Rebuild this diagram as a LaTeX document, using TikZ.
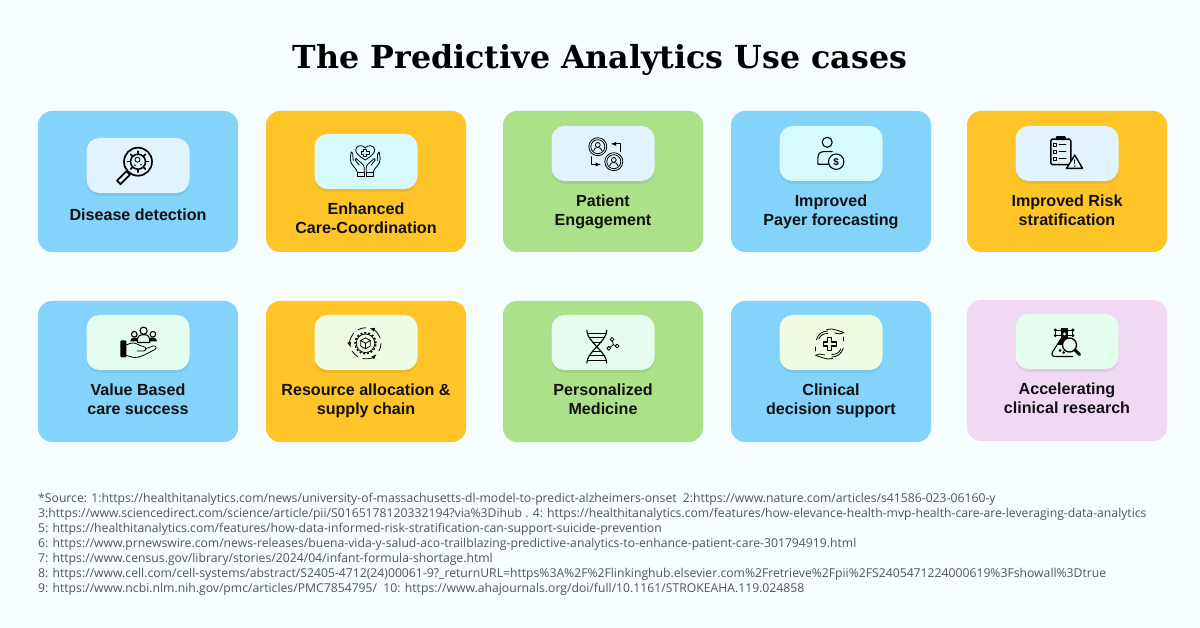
\documentclass[tikz,border=0pt]{standalone}
\usepackage{fontspec}
\setmainfont{Liberation Sans}
\newfontfamily\titlefont{DejaVu Serif}
\newfontfamily\sourcefont{Open Sans}
\usetikzlibrary{positioning,shadows,arrows}
\definecolor{pagebg}{HTML}{F5FDFF}
\definecolor{cardblue}{HTML}{84D3FA}
\definecolor{cardorange}{HTML}{FFC427}
\definecolor{cardgreen}{HTML}{ABE188}
\definecolor{cardpink}{HTML}{F1D8F3}
\definecolor{boxsky}{HTML}{E0F3FE}
\definecolor{boxcyan}{HTML}{D6FBFF}
\definecolor{boxmint}{HTML}{E4FDEF}
\definecolor{boxlime}{HTML}{EEFDE2}
\definecolor{inkdark}{HTML}{111111}
\definecolor{inkgray}{HTML}{555555}
\tikzset{
  card/.style={minimum width=200pt,minimum height=141pt,rounded corners=14pt,inner sep=0pt,outer sep=0pt},
  iconbox/.style={minimum width=103pt,minimum height=55pt,rounded corners=13pt,inner sep=0pt,outer sep=0pt,
    drop shadow={shadow xshift=0pt,shadow yshift=-3pt,opacity=.06,fill=black}},
  cardlabel/.style={inner sep=0pt,align=center,text=inkdark,execute at begin node={\strut},
    font=\fontsize{16.1}{19}\selectfont\bfseries},
  thin line/.style={draw=black,line width=.8pt,line cap=round,line join=round},
  bold line/.style={draw=black,line width=1.7pt,line cap=round,line join=round}
}
\begin{document}
\begin{tikzpicture}[x=1pt,y=-1pt,>=latex]
\fill[pagebg] (0,0) rectangle (1200,628);
\node[font=\titlefont\fontsize{31.7}{38}\selectfont\bfseries,text=black] (title) at (600,60) {The Predictive Analytics Use cases};

\node[card,fill=cardblue] (detect) at (138,181.5) {};
\node[card,fill=cardorange] (coord) [right=28pt of detect] {};
\node[card,fill=cardgreen] (engage) [right=37pt of coord] {};
\node[card,fill=cardblue] (payer) [right=28pt of engage] {};
\node[card,fill=cardorange] (risk) [right=36pt of payer] {};
\node[card,fill=cardblue] (value) [below=49pt of detect] {};
\node[card,fill=cardorange] (supply) [below=49pt of coord] {};
\node[card,fill=cardgreen] (medicine) [below=49pt of engage] {};
\node[card,fill=cardblue] (support) [below=49pt of payer] {};
\node[card,fill=cardpink] (research) [below=48pt of risk] {};

\node[iconbox,fill=boxsky] (detectbox) [below=27pt of detect.north] {};
\node[iconbox,fill=boxcyan] (coordbox) [below=23pt of coord.north] {};
\node[iconbox,fill=boxsky] (engagebox) [below=15pt of engage.north] {};
\node[iconbox,fill=boxcyan] (payerbox) [below=15pt of payer.north] {};
\node[iconbox,fill=boxsky] (riskbox) [below=15pt of risk.north] {};
\node[iconbox,fill=boxmint] (valuebox) [below=14pt of value.north] {};
\node[iconbox,fill=boxlime] (supplybox) [below=14pt of supply.north] {};
\node[iconbox,fill=boxmint] (medicinebox) [below=14pt of medicine.north] {};
\node[iconbox,fill=boxlime] (supportbox) [below=14pt of support.north] {};
\node[iconbox,fill=boxmint] (researchbox) [below=14pt of research.north] {};

\node[cardlabel] (detectlabel) [below=14pt of detectbox] {Disease detection};
\node[cardlabel] (coordlabel) [below=14pt of coordbox] {Enhanced\\Care-Coordination};
\node[cardlabel] (engagelabel) [below=14pt of engagebox] {Patient\\Engagement};
\node[cardlabel] (payerlabel) [below=14pt of payerbox] {Improved\\Payer forecasting};
\node[cardlabel] (risklabel) [below=14pt of riskbox] {Improved Risk\\stratification};
\node[cardlabel] (valuelabel) [below=14pt of valuebox] {Value Based\\care success};
\node[cardlabel] (supplylabel) [below=14pt of supplybox] {Resource allocation \&\\supply chain};
\node[cardlabel] (medicinelabel) [below=14pt of medicinebox] {Personalized\\Medicine};
\node[cardlabel] (supportlabel) [below=14pt of supportbox] {Clinical\\decision support};
\node[cardlabel] (researchlabel) [below=14pt of researchbox] {Accelerating\\clinical research};

\node[anchor=north west,inner sep=0pt,align=left,text=inkgray,font=\sourcefont\fontsize{12.2}{15}\selectfont] (source) at (38,493) {%
*Source: 1:https://healthitanalytics.com/news/university-of-massachusetts-dl-model-to-predict-alzheimers-onset\ \ 2:https://www.nature.com/articles/s41586-023-06160-y\\
3:https://www.sciencedirect.com/science/article/pii/S0165178120332194?via\%3Dihub . 4: https://healthitanalytics.com/features/how-elevance-health-mvp-health-care-are-leveraging-data-analytics\\
5: https://healthitanalytics.com/features/how-data-informed-risk-stratification-can-support-suicide-prevention\\
6: https://www.prnewswire.com/news-releases/buena-vida-y-salud-aco-trailblazing-predictive-analytics-to-enhance-patient-care-301794919.html\\
7: https://www.census.gov/library/stories/2024/04/infant-formula-shortage.html\\
8: https://www.cell.com/cell-systems/abstract/S2405-4712(24)00061-9?\_returnURL=https\%3A\%2F\%2Flinkinghub.elsevier.com\%2Fretrieve\%2Fpii\%2FS2405471224000619\%3Fshowall\%3Dtrue\\
9: https://www.ncbi.nlm.nih.gov/pmc/articles/PMC7854795/\ \ 10: https://www.ahajournals.org/doi/full/10.1161/STROKEAHA.119.024858};

\begin{scope}[shift={(detectbox.center)},shift={(0,-3.8)}]
\draw[bold line] (0,0) circle (14pt);
\draw[thin line,line width=1.5pt] (0,0) circle (7.5pt);
\foreach \a in {0,45,...,315} \draw[thin line,line width=1.5pt] (\a:7.5pt) -- (\a:10.5pt);
\draw[thin line] (-.5,-2) circle (2.5pt);
\fill (-3,3.5) circle (.9pt) (3,3) circle (.9pt);
\draw[bold line] (-11.5,9.5) -- (-21,19) -- (-17.5,22.5) -- (-8,13) -- cycle;
\end{scope}

\begin{scope}[shift={(coordbox.center)},shift={(-.8,0)}]
\draw[thin line] (0,-1.5) .. controls (-6,-5) and (-10,-9) .. (-9.5,-12) .. controls (-9,-16.5) and (-2,-17) .. (0,-13.5) .. controls (2,-17) and (9,-16.5) .. (9.5,-12) .. controls (10,-9) and (6,-5) .. cycle;
\draw[thin line,line width=.7pt] (-1.4,-12.5) -- (1.4,-12.5) -- (1.4,-10.4) -- (3.8,-10.4) -- (3.8,-7.6) -- (1.4,-7.6) -- (1.4,-5.5) -- (-1.4,-5.5) -- (-1.4,-7.6) -- (-3.8,-7.6) -- (-3.8,-10.4) -- (-1.4,-10.4) -- cycle;
\foreach \s in {1,-1} {
\begin{scope}[xscale=\s]
\draw[thin line] (-8,10.5) .. controls (-9,6) and (-15,4) .. (-15,-3) -- (-14,-9.5) -- (-12.5,-8) -- (-12,-1);
\draw[thin line] (-1,10.5) -- (-1,6) .. controls (-1,3) and (-5,1) .. (-9,-3) -- (-10,-1.5) -- (-6,3.5);
\draw[thin line] (-8,10.5) rectangle (-.9,15.2);
\end{scope}
}
\end{scope}

\begin{scope}[shift={(engagebox.center)},shift={(2.8,.7)}]
\foreach \px/\py in {-8/-7.5,8/7.5} {
\begin{scope}[shift={(\px,\py)}]
\draw[thin line] (0,0) circle (9pt);
\draw[thin line] (0,0) circle (7pt);
\draw[thin line] (0,-1.8) circle (2.4pt);
\draw[thin line] (-4.2,4.2) .. controls (-4,1.5) and (-2,.8) .. (0,.8) .. controls (2,.8) and (4,1.5) .. (4.2,4.2);
\end{scope}
}
\draw[thin line,->] (14.7,-2.5) -- (14.7,-10.3) -- (5,-10.3);
\draw[thin line,->] (-14.7,2.5) -- (-14.7,10.3) -- (-5,10.3);
\end{scope}

\begin{scope}[shift={(payerbox.center)},shift={(-3.8,-11.2)}]
\draw[thin line,line width=1.1pt] (0,0) circle (5pt);
\draw[thin line,line width=1.1pt] (1,22) -- (-9.3,22) -- (-9.3,15.5) .. controls (-9.3,11.5) and (-7,9.3) .. (-3.3,9.3) -- (5,9.3);
\draw[thin line,line width=1.1pt,fill=boxcyan] (9,19.4) circle (7.7pt);
\node[inner sep=0pt,font=\fontsize{10}{10}\selectfont\bfseries] (payerdollar) at (9,19.4) {\$};
\end{scope}

\begin{scope}[shift={(riskbox.center)},shift={(-6.2,-1.9)}]
\draw[bold line,line width=1.4pt,rounded corners=1.5pt] (-10,-12.5) rectangle (10,13);
\fill[rounded corners=1pt] (-5,-15.5) rectangle (5,-11.5);
\foreach \ry in {-7,0,7} {
\draw[thin line] (-7.5,\ry-1.6) rectangle (-4.3,\ry+1.6);
\draw[thin line,line width=1.3pt] (-1.5,\ry) -- (5,\ry);
}
\draw[bold line,line width=1.4pt,fill=boxsky] (14,3.5) -- (5.7,16.8) -- (21.7,16.8) -- cycle;
\draw[thin line,line width=1.3pt] (14,8.3) -- (14,12);
\fill (14,14.5) circle (.8pt);
\end{scope}

\begin{scope}[shift={(valuebox.center)},shift={(0,.5)}]
\fill[rounded corners=1pt] (-17.7,-2.5) rectangle (-11.7,14.3);
\draw[thin line] (-11.7,2) .. controls (-6,-1) and (-3,-.5) .. (2,2.5) -- (7,4) .. controls (9,5) and (8,8) .. (5,8) -- (-1,8);
\draw[thin line] (7,6) -- (15,3) .. controls (19,2) and (19,6) .. (16,7) .. controls (8,11) and (2,15) .. (-4,14.5) -- (-11.7,12.5);
\draw[thin line,line width=1.1pt] (-3.7,-8.7) circle (2.8pt);
\draw[thin line,line width=1.1pt] (14.9,-8.7) circle (2.8pt);
\fill (-8,-1.5) .. controls (-8,-4.5) and (-5,-5.5) .. (-3.7,-5.5) -- (0,-5) -- (0,-1.5) -- cycle;
\fill (19.2,-1.5) .. controls (19.2,-4.5) and (16.2,-5.5) .. (14.9,-5.5) -- (11,-5) -- (11,-1.5) -- cycle;
\draw[thin line,line width=1.1pt,fill=boxmint] (5.6,-12.3) circle (3.6pt);
\draw[thin line,line width=1.1pt,fill=boxmint] (-.5,-.5) -- (-.5,-4.5) .. controls (-.5,-7) and (2,-8.3) .. (5.6,-8.3) .. controls (9,-8.3) and (11.7,-7) .. (11.7,-4.5) -- (11.7,-.5) -- cycle;
\end{scope}

\begin{scope}[shift={(supplybox.center)},shift={(-.5,.8)}]
\foreach \a in {20,140,260} {
\draw[thin line,->] (\a:15.5pt) arc[start angle=\a,end angle=\a+55,radius=15.5pt];
\draw[thin line] (\a+70:15.5pt) arc[start angle=\a+70,end angle=\a+100,radius=15.5pt];
}
\draw[thin line,line width=1.5pt,dash pattern=on 2pt off 1.9pt,line cap=butt] (0,0) circle (10.5pt);
\draw[thin line] (0,0) circle (9.3pt);
\draw[thin line] (0,-5.5) -- (4.8,-2.8) -- (4.8,2.8) -- (0,5.5) -- (-4.8,2.8) -- (-4.8,-2.8) -- cycle;
\draw[thin line] (-4.8,-2.8) -- (0,0) -- (4.8,-2.8) (0,0) -- (0,5.5);
\end{scope}

\begin{scope}[shift={(medicinebox.center)},shift={(-6.2,4.2)}]
\draw[thin line,line width=1.1pt] (-10,-16.5) .. controls (-10,-5) and (10,5) .. (10,16.5);
\draw[thin line,line width=1.1pt] (10,-16.5) .. controls (10,-5) and (-10,5) .. (-10,16.5);
\foreach \ry/\rx in {-13.5/9.5,-9/8,-4.5/4.5,4.5/4.5,9/8,13.5/9.5}
\draw[thin line] (-\rx,\ry) -- (\rx,\ry);
\draw[thin line] (15.3,-7.3) -- (16.5,-2) -- (20.3,-.7);
\draw[thin line] (16.5,-2) -- (12,1.7);
\draw[thin line,fill=boxmint] (15.3,-7.3) circle (1.9pt);
\draw[thin line,fill=boxmint] (20.3,-.7) circle (1.9pt);
\draw[thin line,fill=boxmint] (12,1.7) circle (1.9pt);
\end{scope}

\begin{scope}[shift={(supportbox.center)},shift={(-1.2,1.5)}]
\draw[thin line,line width=1.1pt] (-2,-6.5) -- (2,-6.5) -- (2,-2) -- (6.5,-2) -- (6.5,2) -- (2,2) -- (2,6.5) -- (-2,6.5) -- (-2,2) -- (-6.5,2) -- (-6.5,-2) -- (-2,-2) -- cycle;
\foreach \a in {0,180} {
\begin{scope}[rotate=\a]
\draw[thin line] (-11,-5) .. controls (-9.5,-9) and (-6,-10.5) .. (-2,-10.5);
\draw[thin line] (-13.5,-4) .. controls (-12,-10) and (-7,-13) .. (-2,-13);
\draw[thin line] (-3,-14.5) -- (2,-15) .. controls (6,-14.5) and (9,-13) .. (14,-11.5);
\draw[thin line] (14,-11.5) .. controls (11,-9.5) and (8,-10) .. (5,-11);
\draw[thin line] (14,-7) -- (14,-3);
\end{scope}
}
\end{scope}

\begin{scope}[shift={(researchbox.center)},shift={(-2.5,.5)}]
\fill (-3.5,-13.5) rectangle (3.5,-3);
\fill[boxmint] (0,-8) circle (1.6pt);
\draw[thin line,line width=1.1pt] (-3,-4) -- (-12,10) .. controls (-13.5,13) and (-12,14.5) .. (-9,14.5) -- (8,14.5);
\fill (-3.2,-4) -- (-7.5,3) -- (-2,3) -- (0,-4) -- cycle;
\fill (-4.5,8.5) circle (1.5pt) (-1,10.5) circle (1.5pt);
\foreach \mx/\my/\tx in {-9.3/-12/-3,-9.3/-6.5/-3,8.3/-12/3,8.3/-6.5/3} {
\fill (\mx,\my) circle (1.7pt);
\draw[thin line] (\mx,\my) -- (\tx,\my);
}
\draw[thin line] (-9.3,-12) -- (-9.3,-6.5) (8.3,-12) -- (8.3,-6.5);
\draw[thin line,line width=1.3pt,fill=boxmint] (5,3) circle (7pt);
\draw[bold line,line width=3pt] (10.5,8) -- (15,12.5);
\end{scope}
\end{tikzpicture}
\end{document}
